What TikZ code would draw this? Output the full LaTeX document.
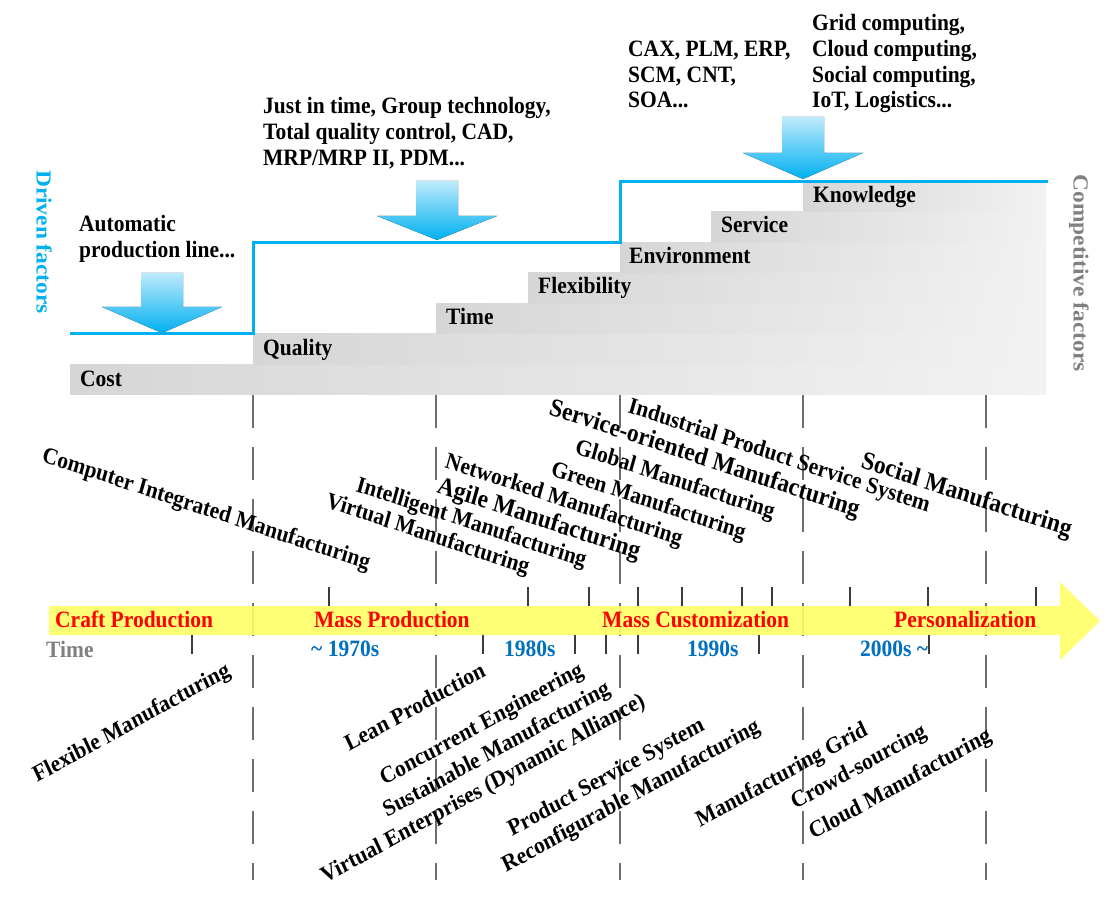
\documentclass[tikz,border=0pt]{standalone}
\usepackage{fontspec}
\setmainfont{Liberation Serif}
\definecolor{skyb}{RGB}{0,176,240}
\definecolor{skyl}{RGB}{190,234,252}
\definecolor{barl}{RGB}{214,214,214}
\definecolor{barr}{RGB}{242,242,242}
\definecolor{dashg}{RGB}{110,110,110}
\definecolor{tickg}{RGB}{60,60,60}
\definecolor{bandy}{RGB}{255,255,102}
\definecolor{yearb}{RGB}{0,112,192}
\definecolor{compg}{RGB}{128,128,128}
\definecolor{erared}{RGB}{255,0,0}
\begin{document}
\begin{tikzpicture}[x=1pt,y=-1pt,
  txt/.style={font=\fontsize{21.5}{26}\selectfont\bfseries, inner sep=0pt, yscale=1.09},
  lbl/.style={txt, anchor=base west},
  upt/.style={lbl, rotate=-17},
  dnt/.style={lbl, rotate=27},
  big/.style={font=\fontsize{23.5}{28}\selectfont\bfseries},
  bar/.style={left color=barl, right color=barr, draw=none},
  fat/.style={top color=skyl, bottom color=skyb, draw=none},
  stepline/.style={draw=skyb, line width=3pt},
  era/.style={draw=dashg, line width=2pt, dash pattern=on 33pt off 19pt},
  tick/.style={draw=tickg, line width=2pt},
  eralbl/.style={lbl, text=erared},
  yearlbl/.style={lbl, text=yearb},
]
\fill[white] (0,0) rectangle (1112,917);
\useasboundingbox (0,0) rectangle (1112,917);

% competitive factor bars
\fill[bar] (70,364.5) rectangle (1046,395);
\fill[bar] (253,334) rectangle (1046,364.5);
\fill[bar] (436,303.5) rectangle (1046,334);
\fill[bar] (528,273) rectangle (1046,303.5);
\fill[bar] (620,242.5) rectangle (1046,273);
\fill[bar] (711,212) rectangle (1046,242.5);
\fill[bar] (803,181.5) rectangle (1046,212);
\node[lbl] (cost) at (80,387) {Cost};
\node[lbl] (quality) at (263,356) {Quality};
\node[lbl] (time) at (446,325) {Time};
\node[lbl] (flex) at (538,294) {Flexibility};
\node[lbl] (env) at (629,264) {Environment};
\node[lbl] (serv) at (721,233) {Service};
\node[lbl] (know) at (813,203) {Knowledge};

% driven factors step line
\draw[stepline] (70,334) -- (253,334) -- (253,242.5) -- (620,242.5) -- (620,181.5) -- (1048,181.5);

% fat arrows
\foreach \cx/\t/\b/\p in {162/273/307/333, 437/181/216/240, 803/117/153/179}
  \fill[fat] (\cx-21,\t) -- (\cx+21,\t) -- (\cx+21,\b) -- (\cx+60,\b) -- (\cx,\p) -- (\cx-60,\b) -- (\cx-21,\b) -- cycle;

% driver texts
\node[lbl] (a1) at (79,232) {Automatic};
\node[lbl] (a2) at (79,258) {production line...};
\node[lbl] (b1) at (263,114) {Just in time, Group technology,};
\node[lbl] (b2) at (263,140) {Total quality control, CAD,};
\node[lbl] (b3) at (263,166) {MRP/MRP II, PDM...};
\node[lbl] (c1) at (628,57) {CAX, PLM, ERP,};
\node[lbl] (c2) at (628,83) {SCM, CNT,};
\node[lbl] (c3) at (628,108) {SOA...};
\node[lbl] (g1) at (812,31) {Grid computing,};
\node[lbl] (g2) at (812,57) {Cloud computing,};
\node[lbl] (g3) at (812,83) {Social computing,};
\node[lbl] (g4) at (812,108) {IoT, Logistics...};

\node[txt, rotate=-90, text=skyb] (df) at (44,242) {Driven factors};
\node[txt, rotate=-90, text=compg] (cf) at (1079,273) {Competitive factors};

% era lines
\foreach \x in {253,436,620,803,986}
  \draw[era] (\x,395) -- (\x,880);

% time band
\fill[bandy, fill opacity=0.9] (49,606) -- (1060,606) -- (1060,582) -- (1100,621) -- (1060,660) -- (1060,635) -- (49,635) -- cycle;
\foreach \x in {329,528,589,638,682,742,772,850,928,1036}
  \draw[tick] (\x,587) -- (\x,606);
\foreach \x in {192,483,575,606,638,759,929}
  \draw[tick] (\x,635) -- (\x,654);

\node[eralbl] (craft) at (55,627) {Craft Production};
\node[eralbl] (mass) at (314,627) {Mass Production};
\node[eralbl] (mc) at (602,627) {Mass Customization};
\node[eralbl] (pers) at (894,627) {Personalization};
\node[lbl, text=compg] (tl) at (46,657) {Time};
\node[yearlbl] (y70) at (311,656) {\textasciitilde\ 1970s};
\node[yearlbl] (y80) at (504,656) {1980s};
\node[yearlbl] (y90) at (687,656) {1990s};
\node[yearlbl] (y00) at (860,656) {2000s \textasciitilde};

% paradigms above
\node[upt] (u1) at (41,461) {Computer Integrated Manufacturing};
\node[upt] (u2) at (325,507) {Virtual Manufacturing};
\node[upt] (u3) at (355,491) {Intelligent Manufacturing};
\node[upt,big] (u4) at (436,492) {Agile Manufacturing};
\node[upt] (u5) at (444,467) {Networked Manufacturing};
\node[upt] (u6) at (550,475) {Green Manufacturing};
\node[upt] (u7) at (574,453) {Global Manufacturing};
\node[upt,big] (u8) at (548,414) {Service-oriented Manufacturing};
\node[upt] (u9) at (627,412) {Industrial Product Service System};
\node[upt,big] (u10) at (860,467) {Social Manufacturing};

% paradigms below
\node[dnt] (d1) at (37,783) {Flexible Manufacturing};
\node[dnt] (d2) at (349,752) {Lean Production};
\node[dnt] (d3) at (384,786) {Concurrent Engineering};
\node[dnt] (d4) at (387,818) {Sustainable Manufacturing};
\node[dnt] (d5) at (325,884) {Virtual Enterprises (Dynamic Alliance)};
\node[dnt] (d6) at (512,837) {Product Service System};
\node[dnt] (d7) at (506,873) {Reconfigurable Manufacturing};
\node[dnt] (d8) at (700,828) {Manufacturing Grid};
\node[dnt] (d9) at (795,810) {Crowd-sourcing};
\node[dnt] (d10) at (813,840) {Cloud Manufacturing};
\end{tikzpicture}
\end{document}
